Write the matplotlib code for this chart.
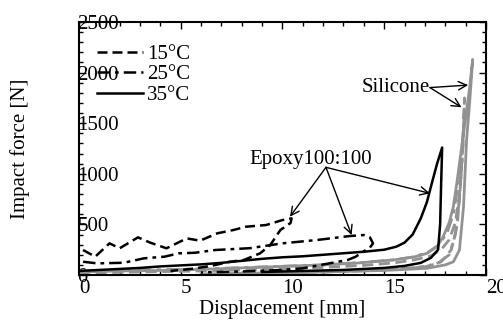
import matplotlib
matplotlib.use("Agg")
import matplotlib.pyplot as plt
from matplotlib.ticker import MultipleLocator

plt.rcParams['font.family'] = ['Liberation Serif', 'DejaVu Serif']
plt.rcParams['font.size'] = 15

# Epoxy 100:100 (black), loading + unloading
ep15_x = [0.2, 0.8, 1.5, 2.0, 2.9, 3.5, 4.3, 5.3, 5.95, 6.8, 7.6, 8.2, 9.2, 10.0, 10.45,
          10.4, 9.9, 9.4, 8.9, 8.1, 7.4, 6.5, 5.5, 4.5]
ep15_y = [247, 181, 313, 264, 372, 320, 264, 362, 339, 412, 445, 477, 494, 543, 560,
          514, 445, 296, 214, 148, 131, 90, 60, 40]
ep25_x = [0.2, 0.9, 2.2, 3.2, 4.2, 4.9, 5.7, 6.7, 8.4, 10.0, 11.7, 13.3, 14.0, 14.3,
          14.45, 14.3, 14.1, 13.6, 13.2, 12.3, 11.0, 9.9, 8.0, 6.0]
ep25_y = [131, 115, 121, 165, 181, 214, 220, 247, 265, 313, 346, 385, 395, 372,
          313, 270, 247, 181, 148, 115, 66, 49, 35, 25]
ep35_x = [0, 1, 2, 3, 4, 5, 6, 7, 8, 9, 10, 11, 12, 13, 14, 15, 15.6, 16.0, 16.4, 16.8,
          17.1, 17.4, 17.6, 17.85, 17.8, 17.75, 17.65, 17.3, 16.8, 16.0, 15.0, 13.0, 11.0, 9.0]
ep35_y = [40, 50, 60, 70, 85, 95, 105, 120, 140, 160, 175, 185, 200, 215, 230, 250, 280,
          320, 400, 560, 720, 950, 1100, 1260, 900, 500, 250, 170, 120, 90, 70, 50, 40, 30]

# Silicone (gray)
si15_x = [0, 3, 6, 9, 12, 14, 15.5, 16.5, 17.3, 17.8, 18.2, 18.5, 18.7, 18.85, 18.95,
          18.9, 18.75, 18.6, 18.3, 17.8, 17.0, 15.0, 12.0, 9.0]
si15_y = [20, 30, 40, 55, 75, 95, 120, 150, 190, 250, 350, 520, 800, 1200, 1750,
          1400, 900, 500, 250, 130, 80, 50, 30, 15]
si25_x = [0, 3, 6, 9, 12, 14, 15.5, 16.5, 17.2, 17.7, 18.1, 18.4, 18.6, 18.8, 18.95,
          18.85, 18.7, 18.5, 18.2, 17.6, 16.5, 14.5, 11.0, 8.0]
si25_y = [40, 50, 60, 80, 100, 125, 150, 180, 230, 300, 420, 600, 850, 1200, 1600,
          1200, 750, 400, 200, 110, 70, 45, 25, 10]
si35_x = [0, 2, 4, 6, 8, 10, 12, 13.8, 15.5, 16.5, 17.1, 17.6, 17.9, 18.2, 18.4, 18.6,
          18.8, 19.0, 19.2, 19.35, 19.2, 19.05, 18.9, 18.7, 18.4, 18.0, 17.1, 15.0, 12.0, 9.0, 6.0]
si35_y = [30, 40, 45, 55, 70, 85, 100, 120, 150, 180, 214, 280, 379, 520, 675, 950,
          1250, 1550, 1850, 2130, 1700, 1334, 675, 247, 130, 100, 66, 45, 30, 20, 10]

labels = ['15°C', '25°C', '35°C']

fig = plt.figure(figsize=(5.03, 3.2), dpi=100)
ax = fig.add_axes([0.157, 0.1406, 0.809, 0.7906])

gray = '#929292'
ax.plot(si15_x, si15_y, color=gray, lw=2, ls=(0, (4, 2)))
ax.plot(si25_x, si25_y, color=gray, lw=2, ls=(0, (5, 2, 1.5, 2)))
ax.plot(si35_x, si35_y, color=gray, lw=2, ls='-')

l1, = ax.plot(ep15_x, ep15_y, color='k', lw=1.8, ls=(0, (4, 2)))
l2, = ax.plot(ep25_x, ep25_y, color='k', lw=1.8, ls=(0, (5, 2, 1.5, 2)))
l3, = ax.plot(ep35_x, ep35_y, color='k', lw=1.8, ls='-')

ax.set_xlim(0, 20)
ax.set_ylim(0, 2500)
ax.xaxis.set_major_locator(MultipleLocator(5))
ax.xaxis.set_minor_locator(MultipleLocator(1))
ax.yaxis.set_major_locator(MultipleLocator(500))
ax.yaxis.set_minor_locator(MultipleLocator(100))
ax.tick_params(which='both', direction='in', top=True, right=True, width=1)
ax.tick_params(which='major', length=5)
ax.tick_params(which='minor', length=3)
ax.tick_params(axis='y', pad=1)
ax.tick_params(axis='x', pad=3)
for lab in ax.get_yticklabels():
    lab.set_ha('left')
for lab in ax.get_xticklabels():
    lab.set_ha('left')
for s in ax.spines.values():
    s.set_linewidth(1.5)

ax.set_xlabel('Displacement [mm]', labelpad=1)
ax.set_ylabel('Impact force [N]', labelpad=32)

ax.legend([l1, l2, l3], labels, loc='upper left', bbox_to_anchor=(0.044, 0.912),
          frameon=False, handlelength=2.2, handletextpad=0.2, labelspacing=0.05,
          borderpad=0, borderaxespad=0)

arr = dict(arrowstyle='->', color='k', lw=1, shrinkA=0, shrinkB=0)
for tip in [(10.37, 576), (13.4, 395), (17.25, 807)]:
    ax.annotate('', xy=tip, xytext=(12.14, 1064), arrowprops=arr)
ax.text(11.4, 1140, 'Epoxy100:100', ha='center', va='center')
for tip in [(19.13, 1877), (18.8, 1657)]:
    ax.annotate('', xy=tip, xytext=(17.25, 1852), arrowprops=arr)
ax.text(17.25, 1852, 'Silicone', ha='right', va='center')

fig.savefig('out.png', dpi=100)
